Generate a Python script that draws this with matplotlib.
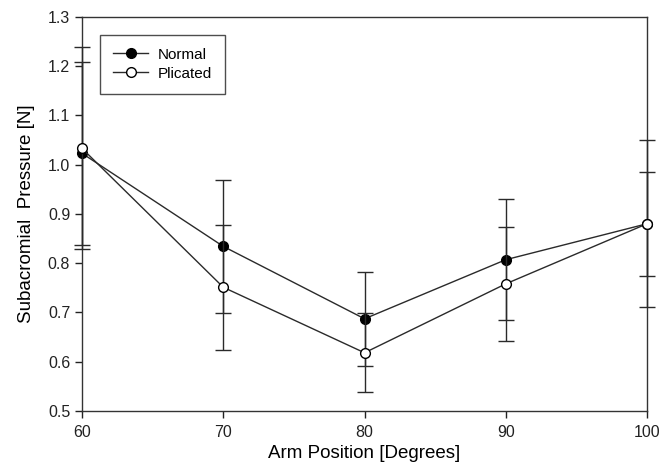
import matplotlib
matplotlib.use("Agg")
import matplotlib.pyplot as plt
from matplotlib.lines import Line2D

plt.rcParams['font.family'] = ['Liberation Sans', 'DejaVu Sans']

positions = [60, 70, 80, 90, 100]
normal = [1.023, 0.834, 0.687, 0.807, 0.880]
normal_err = [0.186, 0.135, 0.095, 0.123, 0.170]
plicated = [1.033, 0.751, 0.618, 0.758, 0.880]
plicated_err = [0.205, 0.127, 0.080, 0.116, 0.106]
x_ticks = [60, 70, 80, 90, 100]
y_ticks = [0.5, 0.6, 0.7, 0.8, 0.9, 1.0, 1.1, 1.2, 1.3]

fig = plt.figure(figsize=(6.72, 4.68), dpi=100)
ax = fig.add_axes([0.122, 0.122, 0.841, 0.842])

lc = '#2a2a2a'
e1 = ax.errorbar(positions, normal, yerr=normal_err, color=lc, lw=1.0,
                 marker='o', ms=7, mfc='black', mec='black', mew=1.0,
                 capsize=6, elinewidth=1.0, capthick=1.0, zorder=3)
e2 = ax.errorbar(positions, plicated, yerr=plicated_err, color=lc, lw=1.0,
                 marker='o', ms=7, mfc='white', mec='black', mew=1.0,
                 capsize=6, elinewidth=1.0, capthick=1.0, zorder=4)
for e in (e1, e2):
    e.lines[0].set_clip_on(False)
    for art in e.lines[1]:
        art.set_clip_on(False)
    for art in e.lines[2]:
        art.set_clip_on(False)

ax.set_xlim(60, 100)
ax.set_ylim(0.5, 1.3)
ax.set_xticks(x_ticks)
ax.set_yticks(y_ticks)
ax.set_yticklabels([f"{v:.1f}" for v in y_ticks])
ax.tick_params(direction='out', length=5, width=1, labelsize=11.5, colors='#222222')
ax.tick_params(axis='x', pad=5)
for s in ax.spines.values():
    s.set_color('#333333')
    s.set_linewidth(1.0)

ax.set_xlabel('Arm Position [Degrees]', fontsize=13.5, labelpad=4)
ax.set_ylabel('Subacromial  Pressure [N]', fontsize=13.5, labelpad=9)

handles = [
    Line2D([], [], color=lc, lw=1.0, marker='o', ms=7, mfc='black', mec='black'),
    Line2D([], [], color=lc, lw=1.0, marker='o', ms=7, mfc='white', mec='black'),
]
leg = ax.legend(handles, ['Normal', 'Plicated'], loc='upper left',
                bbox_to_anchor=(0.032, 0.955), fontsize=11,
                fancybox=False, frameon=True, edgecolor='#222222',
                handlelength=2.3, handletextpad=0.6, borderpad=0.85,
                labelspacing=0.33, borderaxespad=0)
leg.get_frame().set_linewidth(1.0)

fig.savefig('out.png', dpi=100)
